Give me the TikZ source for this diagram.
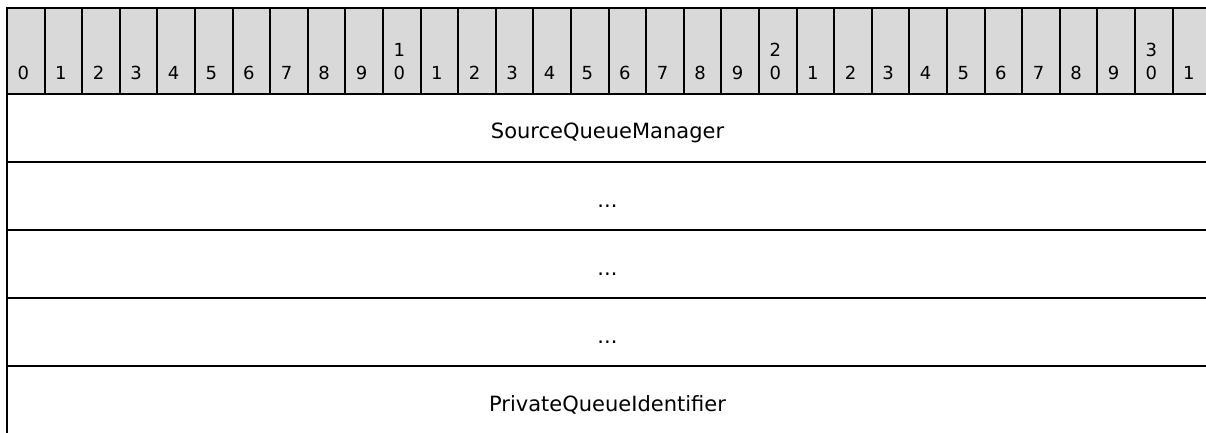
\documentclass[tikz,border=0pt]{standalone}
\usepackage{fontspec}
\setmainfont{DejaVu Sans}
\definecolor{hdrgray}{RGB}{217,217,217}
\begin{document}
\begin{tikzpicture}[x=1pt,y=-1pt,
  cellbox/.style={draw=black, line width=2pt, fill=hdrgray, minimum width=37.6pt, minimum height=86pt, inner sep=0pt, anchor=north west},
  rowbox/.style={draw=black, line width=2pt, minimum width=1203pt, minimum height=68pt, inner sep=0pt, anchor=north west},
  digit/.style={font=\fontsize{18}{23}\selectfont, align=center, inner sep=0pt, text depth=0pt, anchor=south},
  field/.style={font=\fontsize{21}{25}\selectfont, inner sep=0pt, anchor=base}]
\useasboundingbox (0,0) rectangle (1206,433);
\clip (0,0) rectangle (1206,433);
\foreach \i in {0,...,31}{
  \node[cellbox] (h\i) at ({6+37.6*\i},7) {};
  \pgfmathtruncatemacro{\tens}{div(\i,10)}
  \pgfmathtruncatemacro{\ones}{mod(\i,10)}
  \ifnum\i>9 \ifnum\ones=0
    \node[digit] (d\i) at ({6+37.6*\i+17.3},80) {\tens\\\ones};
  \else
    \node[digit] (d\i) at ({6+37.6*\i+17.3},80) {\ones};
  \fi\else
    \node[digit] (d\i) at ({6+37.6*\i+17.3},80) {\ones};
  \fi
}
\node[rowbox] (r0) at (6,93) {};
\node[rowbox] (r1) at (6,161) {};
\node[rowbox] (r2) at (6,229) {};
\node[rowbox] (r3) at (6,297) {};
\node[rowbox] (r4) at (6,365) {};
\node[field] (t0) at (607.5,139) {SourceQueueManager};
\node[field] (t1) at (607.5,207) {...};
\node[field] (t2) at (607.5,275) {...};
\node[field] (t3) at (607.5,343) {...};
\node[field] (t4) at (607.5,411) {PrivateQueueIdentifier};
\end{tikzpicture}
\end{document}
